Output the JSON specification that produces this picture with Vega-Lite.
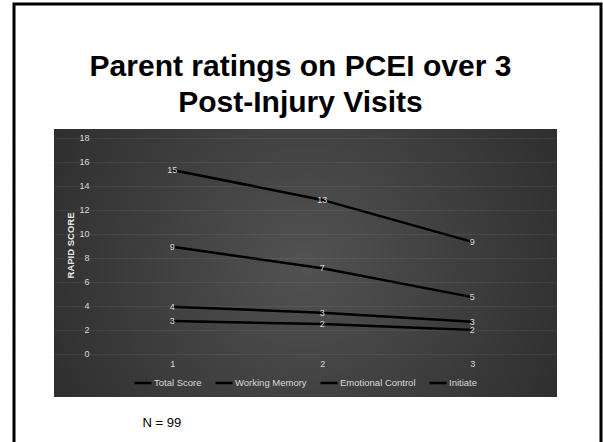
{
  "$schema": "https://vega.github.io/schema/vega-lite/v6.json",
  "width": 587,
  "height": 440,
  "autosize": {"type": "none"},
  "padding": {"left": 14, "top": 4, "right": 2, "bottom": -2},
  "background": "white",
  "title": {
    "text": ["Parent ratings on PCEI over 3", "Post-Injury Visits"],
    "fontSize": 30,
    "fontWeight": "bold",
    "font": "Liberation Sans",
    "color": "black",
    "anchor": "middle",
    "offset": -114,
    "dx": -7,
    "lineHeight": 36
  },
  "config": {
    "view": {"stroke": "black", "strokeWidth": 3, "fill": "white"},
    "font": "Liberation Sans"
  },
  "datasets": {
    "scores": [
      {"visit": 1, "series": "Total Score", "score": 15.3},
      {"visit": 2, "series": "Total Score", "score": 12.8},
      {"visit": 3, "series": "Total Score", "score": 9.3},
      {"visit": 1, "series": "Working Memory", "score": 8.9},
      {"visit": 2, "series": "Working Memory", "score": 7.1},
      {"visit": 3, "series": "Working Memory", "score": 4.7},
      {"visit": 1, "series": "Emotional Control", "score": 3.9},
      {"visit": 2, "series": "Emotional Control", "score": 3.4},
      {"visit": 3, "series": "Emotional Control", "score": 2.65},
      {"visit": 1, "series": "Initiate", "score": 2.7},
      {"visit": 2, "series": "Initiate", "score": 2.45},
      {"visit": 3, "series": "Initiate", "score": 1.95}
    ],
    "panel": [{"kind": "panel"}]
  },
  "layer": [
    {
      "data": {"name": "panel"},
      "mark": {
        "type": "rect",
        "fill": {
          "gradient": "radial",
          "x1": 0.5, "y1": 0.5, "r1": 0,
          "x2": 0.5, "y2": 0.5, "r2": 0.75,
          "stops": [
            {"offset": 0, "color": "#525252"},
            {"offset": 1, "color": "#232323"}
          ]
        }
      },
      "encoding": {
        "x": {
          "datum": 0.2113,
          "type": "quantitative",
          "scale": {"domain": [-0.0553, 3.858], "zero": false, "nice": false},
          "axis": {
            "values": [1, 2, 3],
            "format": "d",
            "labelColor": "#d9d9d9",
            "labelFontSize": 9,
            "ticks": false,
            "domain": false,
            "grid": false,
            "offset": -87,
            "labelPadding": 2,
            "title": "N = 99",
            "titleX": 128,
            "titleY": 69,
            "titleAlign": "left",
            "titleBaseline": "alphabetic",
            "titleFontSize": 13,
            "titleFontWeight": "normal",
            "titleColor": "black",
            "zindex": 1
          }
        },
        "x2": {"datum": 3.5647},
        "y": {
          "datum": 18.71,
          "type": "quantitative",
          "scale": {"domain": [-7.54, 29.125], "zero": false, "nice": false},
          "axis": {
            "values": [0, 2, 4, 6, 8, 10, 12, 14, 16, 18],
            "title": "RAPID SCORE",
            "titleFontSize": 9.5,
            "titleFontWeight": "bold",
            "titleColor": "#e6e6e6",
            "titleX": -21,
            "titleY": 241,
            "titleBaseline": "middle",
            "titleAlign": "center",
            "titleAngle": -90,
            "labelColor": "#d9d9d9",
            "labelFontSize": 9,
            "labelPadding": 2,
            "ticks": false,
            "domain": false,
            "offset": -77,
            "grid": true,
            "gridColor": "#ffffff",
            "gridOpacity": 0.06,
            "gridWidth": 1,
            "zindex": 1
          }
        },
        "y2": {"datum": -3.625}
      }
    },
    {
      "data": {"name": "scores"},
      "mark": {"type": "line", "strokeWidth": 2.5},
      "encoding": {
        "x": {
          "field": "visit",
          "type": "quantitative",
          "axis": {
            "values": [1, 2, 3],
            "format": "d",
            "labelColor": "#d9d9d9",
            "labelFontSize": 9,
            "ticks": false,
            "domain": false,
            "grid": false,
            "offset": -87,
            "labelPadding": 2,
            "title": "N = 99",
            "titleX": 128,
            "titleY": 69,
            "titleAlign": "left",
            "titleBaseline": "alphabetic",
            "titleFontSize": 13,
            "titleFontWeight": "normal",
            "titleColor": "black",
            "zindex": 1
          }
        },
        "y": {
          "field": "score",
          "type": "quantitative",
          "axis": {
            "values": [0, 2, 4, 6, 8, 10, 12, 14, 16, 18],
            "title": "RAPID SCORE",
            "titleFontSize": 9.5,
            "titleFontWeight": "bold",
            "titleColor": "#e6e6e6",
            "titleX": -21,
            "titleY": 241,
            "titleBaseline": "middle",
            "titleAlign": "center",
            "titleAngle": -90,
            "labelColor": "#d9d9d9",
            "labelFontSize": 9,
            "labelPadding": 2,
            "ticks": false,
            "domain": false,
            "offset": -77,
            "grid": true,
            "gridColor": "#ffffff",
            "gridOpacity": 0.06,
            "gridWidth": 1,
            "zindex": 1
          }
        },
        "color": {
          "field": "series",
          "type": "nominal",
          "scale": {
            "domain": ["Total Score", "Working Memory", "Emotional Control", "Initiate"],
            "range": ["#000000", "#000000", "#000000", "#000000"]
          },
          "legend": {
            "orient": "none",
            "legendX": 119,
            "legendY": 369,
            "direction": "horizontal",
            "columns": 4,
            "title": null,
            "padding": 0,
            "symbolType": "stroke",
            "symbolSize": 289,
            "symbolStrokeWidth": 2.5,
            "labelColor": "#d9d9d9",
            "labelFontSize": 9.5,
            "labelOffset": 1,
            "columnPadding": 8
          }
        }
      }
    },
    {
      "data": {"name": "scores"},
      "mark": {"type": "text", "align": "center", "baseline": "middle", "color": "#d9d9d9", "fontSize": 9},
      "encoding": {
        "x": {
          "field": "visit",
          "type": "quantitative",
          "axis": {
            "values": [1, 2, 3],
            "format": "d",
            "labelColor": "#d9d9d9",
            "labelFontSize": 9,
            "ticks": false,
            "domain": false,
            "grid": false,
            "offset": -87,
            "labelPadding": 2,
            "title": "N = 99",
            "titleX": 128,
            "titleY": 69,
            "titleAlign": "left",
            "titleBaseline": "alphabetic",
            "titleFontSize": 13,
            "titleFontWeight": "normal",
            "titleColor": "black",
            "zindex": 1
          }
        },
        "y": {
          "field": "score",
          "type": "quantitative",
          "axis": {
            "values": [0, 2, 4, 6, 8, 10, 12, 14, 16, 18],
            "title": "RAPID SCORE",
            "titleFontSize": 9.5,
            "titleFontWeight": "bold",
            "titleColor": "#e6e6e6",
            "titleX": -21,
            "titleY": 241,
            "titleBaseline": "middle",
            "titleAlign": "center",
            "titleAngle": -90,
            "labelColor": "#d9d9d9",
            "labelFontSize": 9,
            "labelPadding": 2,
            "ticks": false,
            "domain": false,
            "offset": -77,
            "grid": true,
            "gridColor": "#ffffff",
            "gridOpacity": 0.06,
            "gridWidth": 1,
            "zindex": 1
          }
        },
        "text": {"field": "score", "type": "quantitative", "format": ".0f"}
      }
    }
  ]
}
